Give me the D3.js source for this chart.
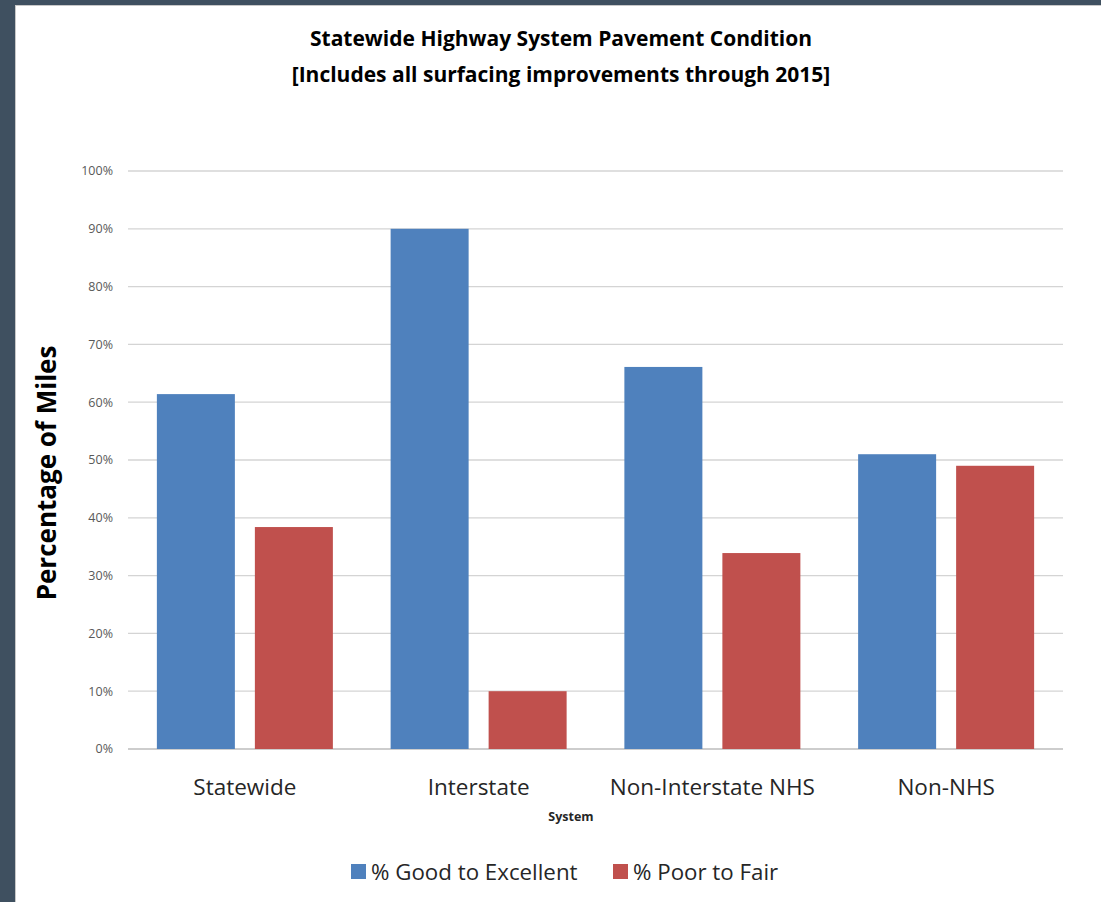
<!DOCTYPE html>
<html>
<head>
<meta charset="utf-8">
<script src="https://cdn.jsdelivr.net/npm/d3@7"></script>
<style>
  html, body { margin: 0; padding: 0; background: #3f5060; }
  #chart { position: absolute; left: 15px; top: 5px; width: 1086px; height: 897px; background: #fff; border-left: 1px solid #c8c8c8; border-top: 1px solid #c8c8c8; }
  text { font-family: "Open Sans", "DejaVu Sans", sans-serif; }
</style>
</head>
<body>
<div id="chart"></div>
<script>
var categories = ["Statewide", "Interstate", "Non-Interstate NHS", "Non-NHS"];
var seriesNames = ["% Good to Excellent", "% Poor to Fair"];
var goodValues = [61.4, 90.0, 66.1, 51.0];
var poorValues = [38.4, 10.0, 33.9, 49.0];
var yTicks = [0, 10, 20, 30, 40, 50, 60, 70, 80, 90, 100];
var colors = ["#4f81bd", "#c0504d"];

var width = 1101, height = 902;
var plotLeft = 128, plotRight = 1063, plotTop = 171, plotBottom = 749;

var svg = d3.select("body").append("svg")
  .attr("width", width).attr("height", height)
  .style("position", "absolute").style("left", 0).style("top", 0);

var x = d3.scaleBand().domain(categories).range([plotLeft, plotRight]).paddingInner(0).paddingOuter(0);
var y = d3.scaleLinear().domain([0, 100]).range([plotBottom, plotTop]);

// gridlines
svg.append("g").selectAll("line").data(yTicks).enter().append("line")
  .attr("x1", plotLeft).attr("x2", plotRight)
  .attr("y1", d => y(d)).attr("y2", d => y(d))
  .attr("stroke", d => d === 0 ? "#bdbdbd" : "#d4d4d4").attr("stroke-width", 1.3);

// y tick labels
svg.append("g").selectAll("text").data(yTicks).enter().append("text")
  .attr("x", 113).attr("y", d => y(d)).attr("dy", "0.35em")
  .attr("text-anchor", "end").attr("font-size", 12.5).attr("fill", "#595959")
  .text(d => d + "%");

var barW = 78, gap = 20;
var rows = categories.map((c, i) => ({cat: c, vals: [goodValues[i], poorValues[i]]}));

var groups = svg.selectAll("g.cat").data(rows).enter().append("g").attr("class", "cat");
groups.selectAll("rect").data(d => d.vals.map((v, j) => ({cat: d.cat, v: v, j: j}))).enter().append("rect")
  .attr("x", d => x(d.cat) + (x.bandwidth() - 2 * barW - gap) / 2 + d.j * (barW + gap))
  .attr("y", d => y(d.v))
  .attr("width", barW)
  .attr("height", d => y(0) - y(d.v))
  .attr("fill", d => colors[d.j]);

// x labels
svg.append("g").selectAll("text").data(categories).enter().append("text")
  .attr("x", d => x(d) + x.bandwidth() / 2).attr("y", 795)
  .attr("text-anchor", "middle").attr("font-size", 22.5).attr("fill", "#262626")
  .text(d => d);

svg.append("text").attr("x", 571).attr("y", 821).attr("text-anchor", "middle")
  .attr("font-size", 12.5).attr("font-weight", "bold").attr("fill", "#262626").text("System");

svg.append("text")
  .attr("transform", "translate(56," + 473 + ") rotate(-90)")
  .attr("text-anchor", "middle").attr("font-size", 26).attr("font-weight", "bold").attr("fill", "#000")
  .text("Percentage of Miles");

// title
svg.append("text").attr("x", 561).attr("y", 46).attr("text-anchor", "middle")
  .attr("font-size", 21).attr("font-weight", "bold").attr("fill", "#000")
  .text("Statewide Highway System Pavement Condition");
svg.append("text").attr("x", 561).attr("y", 82).attr("text-anchor", "middle")
  .attr("font-size", 21).attr("font-weight", "bold").attr("fill", "#000")
  .text("[Includes all surfacing improvements through 2015]");

// legend
var legendX = [351, 613];
var lg = svg.selectAll("g.legend").data(seriesNames).enter().append("g").attr("class", "legend")
  .attr("transform", (d, i) => "translate(" + legendX[i] + ",864)");
lg.append("rect").attr("width", 15).attr("height", 15).attr("fill", (d, i) => colors[i]);
lg.append("text").attr("x", 20).attr("y", 8).attr("dy", "0.35em")
  .attr("font-size", 22.3).attr("fill", "#262626").text(d => d);
</script>
</body>
</html>
